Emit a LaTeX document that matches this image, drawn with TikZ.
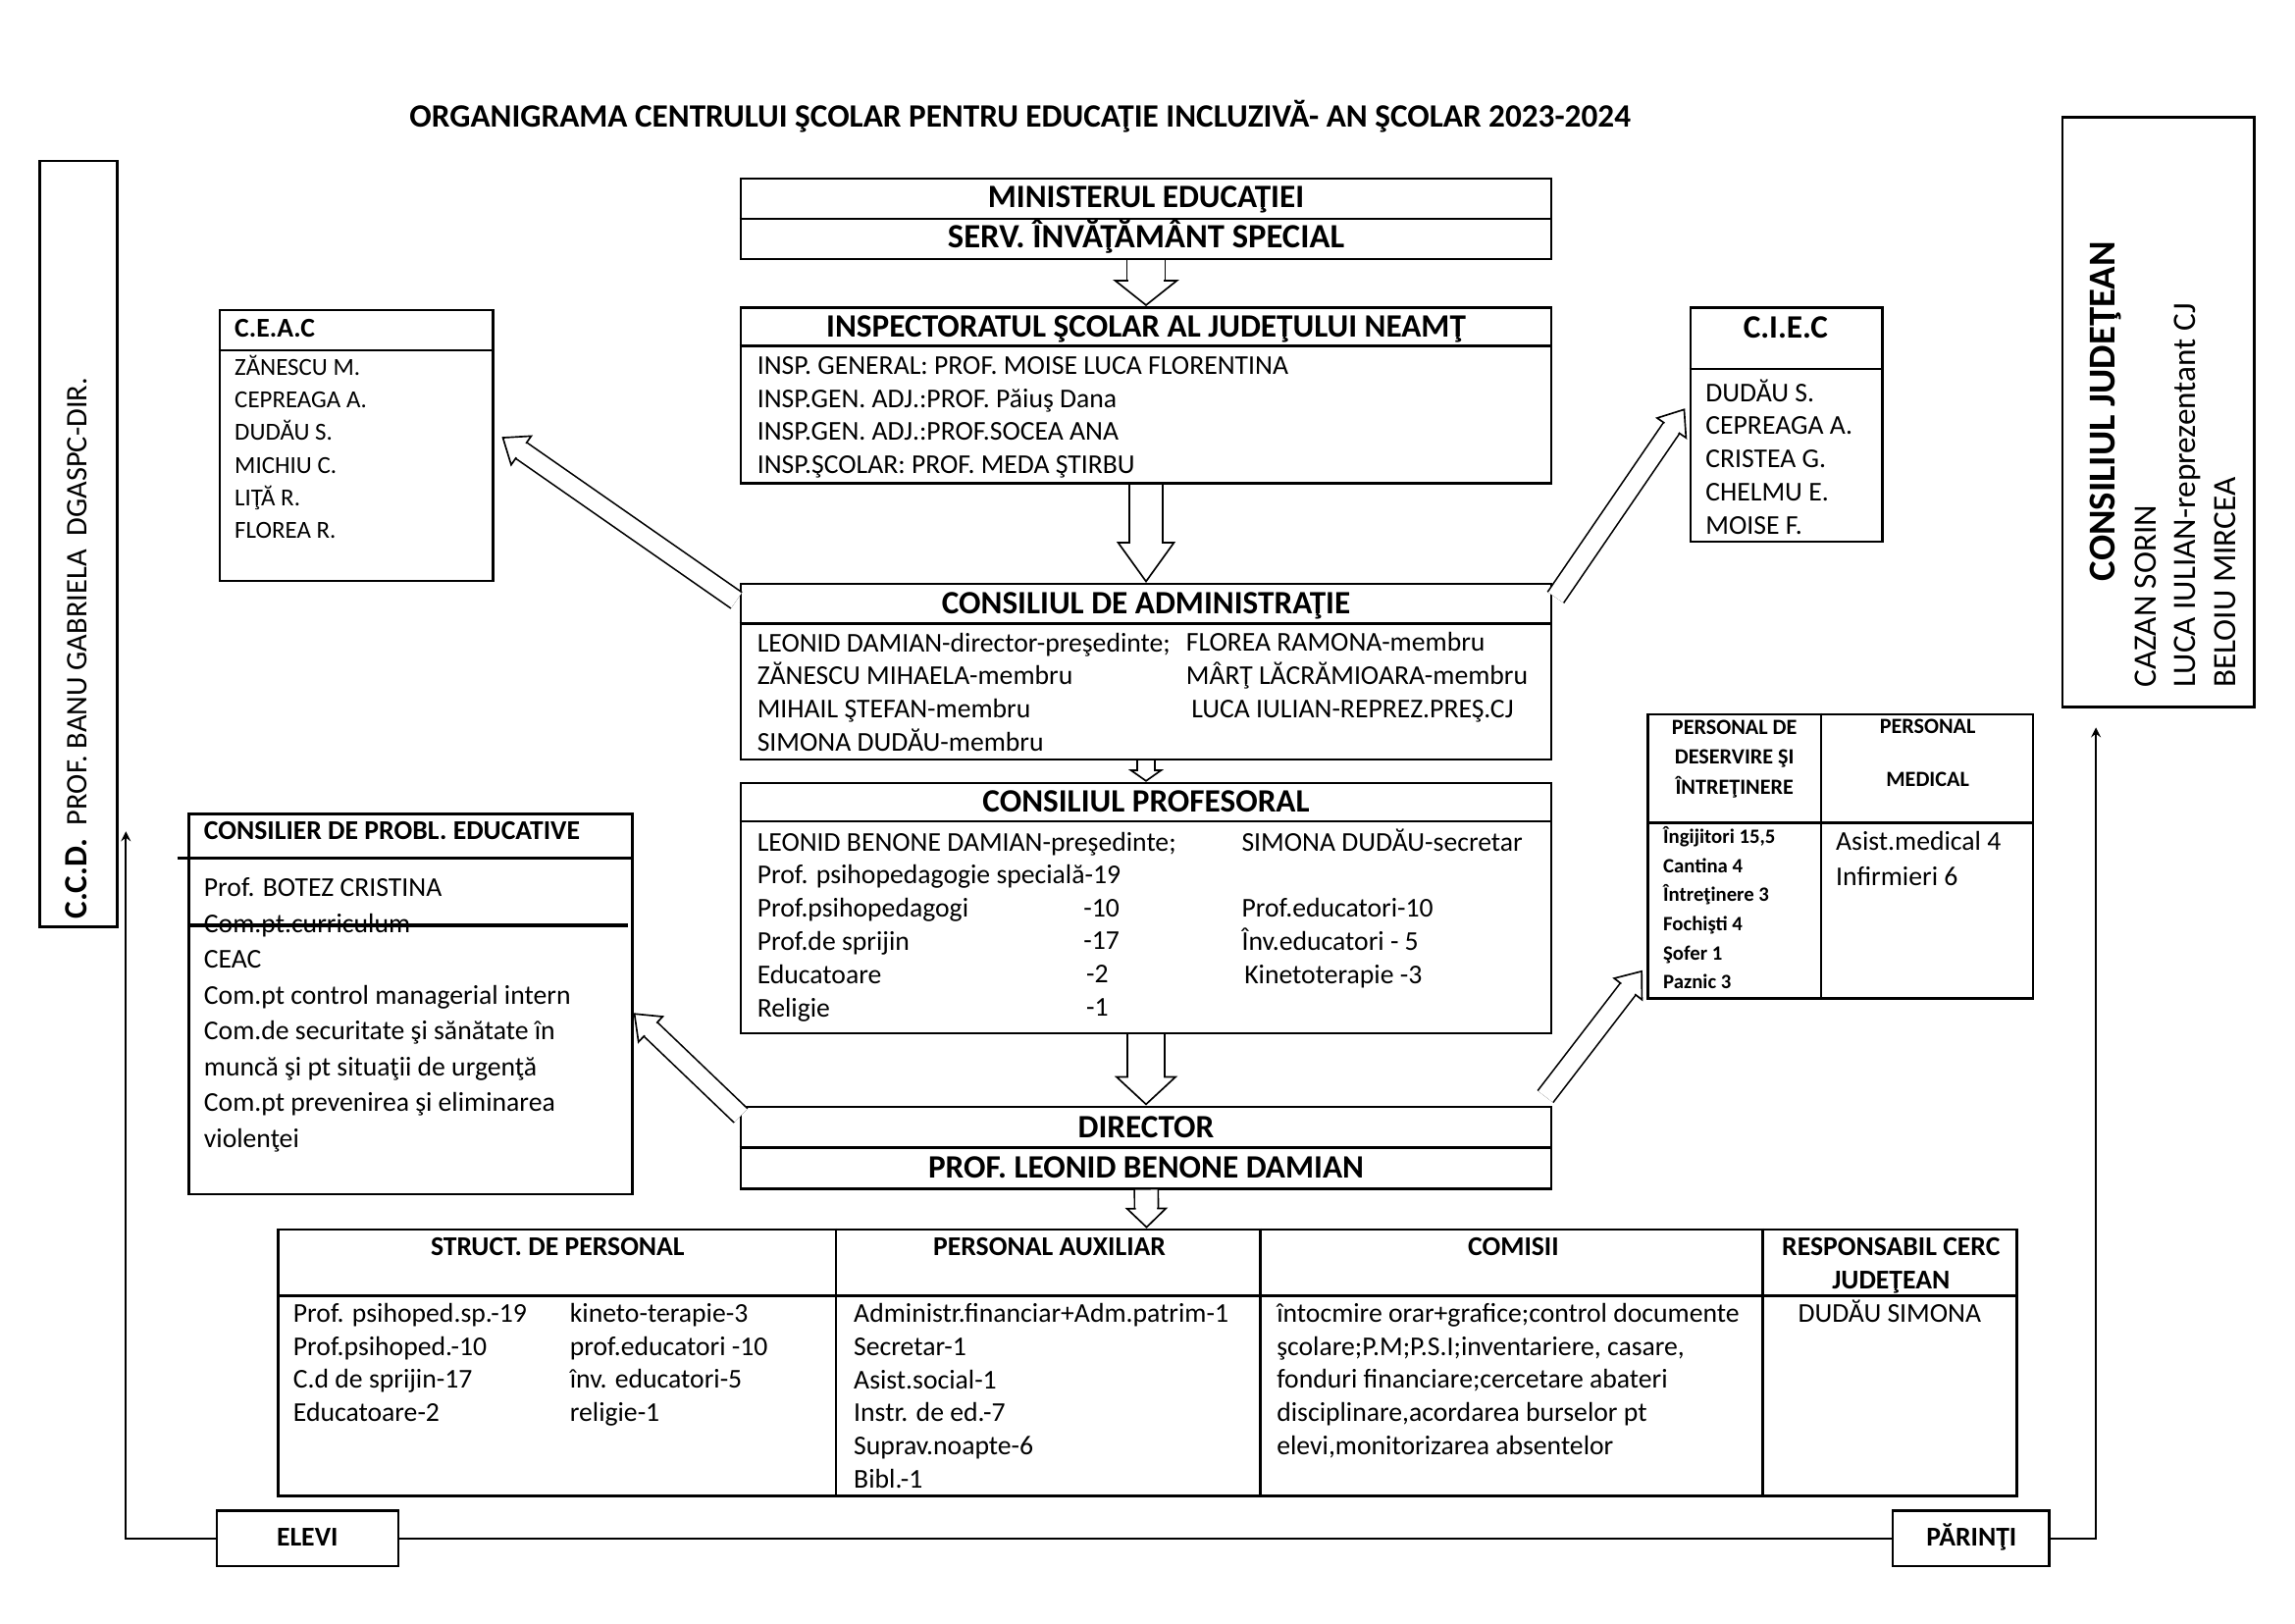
\documentclass[tikz,border=0pt]{standalone}
\usepackage{fontspec}
\setmainfont{Carlito}
\usetikzlibrary{calc,fit,arrows.meta,decorations.markings}

\begin{document}
\begin{tikzpicture}[x=0.018941cm, y=-0.018941cm,
  box/.style={
    rectangle,
    draw=black,
    line width=0.9pt,
    inner sep=0pt
  },
  head/.style={
    font=\bfseries\fontsize{12}{14}\selectfont,
    inner sep=0pt,
    anchor=base
  },
  txt/.style={
    font=\fontsize{10}{12.2}\selectfont,
    align=left,
    inner sep=0pt,
    anchor=base west
  },
  blk/.style n args={3}{
    double=white,
    double distance=#1,
    line width=0.6pt,
    -{Triangle[open, width=#2, length=#3, line width=0.6pt]},
    postaction={decorate, decoration={markings,
      mark=at position -#3 with {\fill[white] (-1.2pt,-#1/2+0.15pt) rectangle (1.2pt,#1/2-0.15pt);}}}
  },
  link/.style={line width=0.6pt}
 ]
 \useasboundingbox (0,0) rectangle (1568,1108.8);

 %titlu
 \node[head] (titlu) at (697,87) {ORGANIGRAMA CENTRULUI ŞCOLAR PENTRU EDUCAŢIE INCLUZIVĂ- AN ŞCOLAR 2023-2024};

 %minister
 \node[box, fit={(506,122) (1060,177)}] (min) {};
 \draw[line width=0.9pt] (min.west) -- (min.east);
 \node[head] (minA) at (783,142) {MINISTERUL EDUCAŢIEI};
 \node[head, font=\bfseries\fontsize{12.5}{14}\selectfont] (minB) at (783,169) {SERV. ÎNVĂŢĂMÂNT SPECIAL};

 %inspectorat
 \node[box, fit={(506,210) (1060,330)}] (insp) {};
 \draw[line width=0.9pt] ($(insp.north west)+(0,27)$) -- ($(insp.north east)+(0,27)$);
 \node[head] (inspA) at (783,230) {INSPECTORATUL ŞCOLAR AL JUDEŢULUI NEAMŢ};
 % ancorat pe ultimul rand
 \node[txt] (inspB) at (517,323.6) {INSP. GENERAL: PROF. MOISE LUCA FLORENTINA\\
   INSP.GEN. ADJ.:PROF. Păiuş Dana\\
   INSP.GEN. ADJ.:PROF.SOCEA ANA\\
   INSP.ŞCOLAR: PROF. MEDA ŞTIRBU};

 %ceac
 \node[box, fit={(150,212) (337,397)}] (ceac) {};
 \draw[line width=0.9pt] ($(ceac.north west)+(0,28)$) -- ($(ceac.north east)+(0,28)$);
 \node[txt, font=\bfseries\fontsize{10}{12}\selectfont] (ceacA) at (160,230.5) {C.E.A.C};
 \node[txt, font=\fontsize{9}{12}\selectfont] (ceacB) at (160,367.7) {ZĂNESCU M.\\
   CEPREAGA A.\\
   DUDĂU S.\\
   MICHIU C.\\
   LIŢĂ R.\\
   FLOREA R.};

 %ciec
 \node[box, fit={(1155,210) (1286,370)}] (ciec) {};
 \draw[line width=0.9pt] ($(ciec.north west)+(0,43)$) -- ($(ciec.north east)+(0,43)$);
 \node[head] (ciecA) at (1220,231) {C.I.E.C};
 \node[txt] (ciecB) at (1165,364.8) {DUDĂU S.\\
   CEPREAGA A.\\
   CRISTEA G.\\
   CHELMU E.\\
   MOISE F.};

 %consiliul de administratie
 \node[box, fit={(506,399) (1060,519)}] (ca) {};
 \draw[line width=0.9pt] ($(ca.north west)+(0,28)$) -- ($(ca.north east)+(0,28)$);
 \node[head] (caA) at (783,419) {CONSILIUL DE ADMINISTRAŢIE};
 \node[txt] (caB) at (517,513.1) {LEONID DAMIAN-director-preşedinte;\\
   ZĂNESCU MIHAELA-membru\\
   MIHAIL ŞTEFAN-membru\\
   SIMONA DUDĂU-membru};
 \node[txt] (caC) at (810,490.4) {FLOREA RAMONA-membru\\
   MÂRŢ LĂCRĂMIOARA-membru\\
   \hspace{2pt}LUCA IULIAN-REPREZ.PREŞ.CJ};

 %consiliul profesoral
 \node[box, fit={(506,535) (1060,706)}] (cp) {};
 \draw[line width=0.9pt] ($(cp.north west)+(0,27)$) -- ($(cp.north east)+(0,27)$);
 \node[head] (cpA) at (783,555) {CONSILIUL PROFESORAL};
 \node[txt] (cpB) at (517,694.5) {LEONID BENONE DAMIAN-preşedinte;\\
   Prof. psihopedagogie specială-19\\
   Prof.psihopedagogi\\
   Prof.de sprijin\\
   Educatoare\\
   Religie};
 \node[txt] (cpC) at (740,694.1) {-10\\
   -17\\
   \hspace{1pt}-2\\
   \hspace{1pt}-1};
 \node[txt] (cpD) at (848,671.8) {SIMONA DUDĂU-secretar\\
   \mbox{}\\
   Prof.educatori-10\\
   Înv.educatori - 5\\
   \hspace{1pt}Kinetoterapie -3};

 %director
 \node[box, fit={(506,756) (1060,812)}] (dir) {};
 \draw[line width=0.9pt] (dir.west) -- (dir.east);
 \node[head] (dirA) at (783,777) {DIRECTOR};
 \node[head] (dirB) at (783,805) {PROF. LEONID BENONE DAMIAN};

 %consilier educativ
 \node[box, fit={(129,556) (432,816)}] (cons) {};
 \draw[line width=0.9pt] ($(cons.north west)+(-7,31)$) -- ($(cons.north east)+(0,31)$);
 \node[txt, font=\bfseries\fontsize{10}{12}\selectfont] (consA) at (139,573.5) {CONSILIER DE PROBL. EDUCATIVE};
 \node[txt, font=\fontsize{10}{13.2}\selectfont] (consB) at (139,783.9) {Prof. BOTEZ CRISTINA\\
   Com.pt.curriculum\\
   CEAC\\
   Com.pt control managerial intern\\
   Com.de securitate şi sănătate în\\
   muncă şi pt situaţii de urgenţă\\
   Com.pt prevenirea şi eliminarea\\
   violenţei};
 \draw[line width=1.4pt] ($(cons.north west)+(0,77)$) -- ($(cons.north east)+(-4,77)$);

 %personal nedidactic
 \node[box, fit={(1126,488) (1389,682)}] (pers) {};
 \draw[line width=0.9pt] ($(pers.north west)+(0,75)$) -- ($(pers.north east)+(0,75)$);
 \draw[line width=0.9pt] ($(pers.north west)+(119,0)$) -- ($(pers.south west)+(119,0)$);
 \node[head, align=center, font=\bfseries\fontsize{8}{11}\selectfont] (persA) at (1185,542.4) {PERSONAL DE\\DESERVIRE ŞI\\ÎNTREŢINERE};
 \node[head, align=center, font=\bfseries\fontsize{8}{11}\selectfont] (persB) at (1317,537.5) {PERSONAL\\[8.5pt]MEDICAL};
 \node[txt, font=\bfseries\fontsize{7.5}{10.7}\selectfont] (persC) at (1136,675.6) {Îngijitori 15,5\\
   Cantina 4\\
   Întreţinere 3\\
   Fochişti 4\\
   Şofer 1\\
   Paznic 3};
 \node[txt, font=\fontsize{10}{13}\selectfont] (persD) at (1254,604.7) {Asist.medical 4\\
   Infirmieri 6};

 %tabel jos
 \node[box, fit={(190,840) (1378,1022)}] (tab) {};
 \draw[line width=0.9pt] ($(tab.north west)+(0,46)$) -- ($(tab.north east)+(0,46)$);
 \draw[line width=0.9pt] ($(tab.north west)+(382,0)$) -- ($(tab.south west)+(382,0)$);
 \draw[line width=0.9pt] ($(tab.north west)+(672,0)$) -- ($(tab.south west)+(672,0)$);
 \draw[line width=0.9pt] ($(tab.north west)+(1015,0)$) -- ($(tab.south west)+(1015,0)$);
 \node[head, font=\bfseries\fontsize{10}{12}\selectfont] (tabA) at (381,857.5) {STRUCT. DE PERSONAL};
 \node[head, font=\bfseries\fontsize{10}{12}\selectfont] (tabB) at (717,857.5) {PERSONAL AUXILIAR};
 \node[head, font=\bfseries\fontsize{10}{12}\selectfont] (tabC) at (1034,857.5) {COMISII};
 \node[head, align=center, font=\bfseries\fontsize{10}{12.4}\selectfont] (tabD) at (1292,880.6) {RESPONSABIL CERC\\JUDEŢEAN};
 \node[txt] (tabE) at (200,971.1) {Prof. psihoped.sp.-19\\
   Prof.psihoped.-10\\
   C.d de sprijin-17\\
   Educatoare-2};
 \node[txt] (tabF) at (389,971.1) {kineto-terapie-3\\
   prof.educatori -10\\
   înv. educatori-5\\
   religie-1};
 \node[txt] (tabG) at (583,1016.5) {Administr.financiar+Adm.patrim-1\\
   Secretar-1\\
   Asist.social-1\\
   Instr. de ed.-7\\
   Suprav.noapte-6\\
   Bibl.-1};
 \node[txt] (tabH) at (872,993.8) {întocmire orar+grafice;control documente\\
   şcolare;P.M;P.S.I;inventariere, casare,\\
   fonduri financiare;cercetare abateri\\
   disciplinare,acordarea burselor pt\\
   elevi,monitorizarea absentelor};
 \node[head, font=\fontsize{10}{12.2}\selectfont] (tabI) at (1291,903) {DUDĂU SIMONA};

 %ccd
 \node[box, fit={(27,110) (80,633)}] (ccd) {};
 \node[txt, rotate=90, font=\fontsize{11}{13}\selectfont] (ccdA) at (59,628) {{\bfseries\fontsize{12}{14}\selectfont C.C.D.}~~PROF. BANU GABRIELA~~DGASPC-DIR.};

 %consiliul judetean
 \node[box, fit={(1409,80) (1540,483)}] (cj) {};
 \node[head, rotate=90, font=\bfseries\fontsize{14}{16}\selectfont] (cjA) at (1445,281) {CONSILIUL JUDEŢEAN};
 \node[txt, rotate=90, font=\fontsize{12}{14.6}\selectfont] (cjB) at (1527.3,470) {CAZAN SORIN\\
   LUCA IULIAN-reprezentant CJ\\
   BELOIU MIRCEA};

 %elevi, parinti
 \node[box, fit={(148,1032) (272,1070)}] (elevi) {};
 \node[head, font=\bfseries\fontsize{10}{12}\selectfont] (eleviA) at (210,1056) {ELEVI};
 \node[box, fit={(1293,1032) (1400,1070)}] (parinti) {};
 \node[head, font=\bfseries\fontsize{10}{12}\selectfont] (parintiA) at (1347,1056) {PĂRINŢI};
 \coordinate (ccdIn) at (86,568);
 \coordinate (cjIn) at (1432,497);

 %sageti
 \draw[blk={13.5pt}{24.3pt}{9.7pt}] (min) -- (insp);
 \draw[blk={11.9pt}{21.6pt}{15.1pt}] (insp) -- (ca);
 \draw[blk={5.9pt}{13pt}{4.6pt}] (ca) -- (cp);
 \draw[blk={13pt}{23.2pt}{10.8pt}] (cp) -- (dir);
 \draw[blk={8.1pt}{15.7pt}{7.6pt}] (dir) -- (tab);
 \draw[blk={6.5pt}{14pt}{9pt}] ($(ca.north west)+(-2,12)$) -- ($(ceac.east)+(5,-6)$);
 \draw[blk={6.5pt}{14pt}{9pt}] ($(ca.north east)+(2,10)$) -- ($(ciec.west)+(-3,-11)$);
 \draw[blk={6.5pt}{14pt}{9pt}] ($(dir.north west)+(1,7)$) -- ($(cons.east)+(0,6)$);
 \draw[blk={6.5pt}{14pt}{9pt}] ($(dir.north east)+(-5,-6)$) -- ($(pers.south west)+(-3,-20)$);

 \draw[link] (elevi) -- (parinti);
 \draw[link,-stealth] (elevi.west) -| (ccdIn);
 \draw[link,-stealth] (parinti.east) -| (cjIn);
\end{tikzpicture}
\end{document}
